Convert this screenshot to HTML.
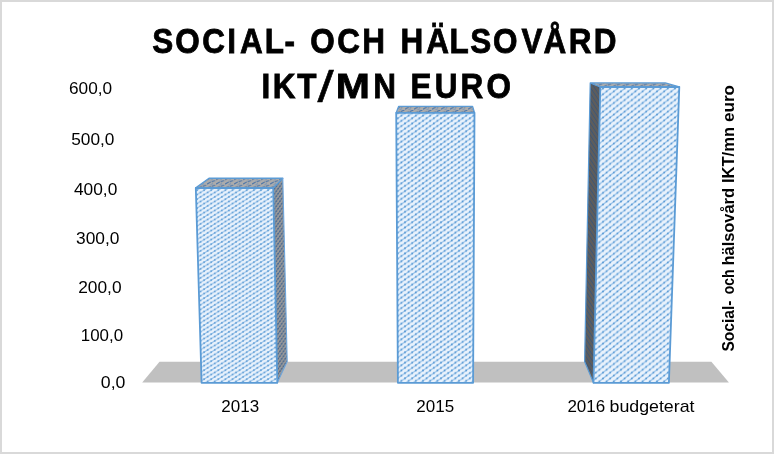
<!DOCTYPE html>
<html><head><meta charset="utf-8">
<style>
html,body{margin:0;padding:0;background:#fff;}
body{width:774px;height:454px;overflow:hidden;}
svg{display:block;will-change:transform;}
text{font-family:"Liberation Sans",sans-serif;}
</style></head>
<body>
<svg width="774" height="454" viewBox="0 0 774 454">
<defs>
  <pattern id="pf1" patternUnits="userSpaceOnUse" width="7.1" height="4.5">
    <rect width="7.1" height="4.5" fill="#e9f2fc"/>
    <path d="M-7.1 9.0 L14.2 -4.5 M-7.1 13.5 L14.2 0 M-7.1 4.5 L14.2 -9.0" stroke="#93bfe8" stroke-width="1.0"/>
    <circle cx="1.77" cy="3.38" r="1" fill="#5b9bd5"/>
    <circle cx="5.32" cy="1.12" r="1" fill="#5b9bd5"/>
  </pattern>
  <pattern id="pf2" patternUnits="userSpaceOnUse" width="7.2" height="5.2">
    <rect width="7.2" height="5.2" fill="#e9f2fc"/>
    <path d="M-7.2 10.4 L14.4 -5.2 M-7.2 15.600000000000001 L14.4 0 M-7.2 5.2 L14.4 -10.4" stroke="#93bfe8" stroke-width="1.15"/>
    <circle cx="1.80" cy="3.90" r="1" fill="#5b9bd5"/>
    <circle cx="5.40" cy="1.30" r="1" fill="#5b9bd5"/>
  </pattern>
  <pattern id="pf3" patternUnits="userSpaceOnUse" width="7.2" height="5.8">
    <rect width="7.2" height="5.8" fill="#e9f2fc"/>
    <path d="M-7.2 11.6 L14.4 -5.8 M-7.2 17.4 L14.4 0 M-7.2 5.8 L14.4 -11.6" stroke="#93bfe8" stroke-width="1.25"/>
    <circle cx="1.80" cy="4.35" r="1" fill="#5b9bd5"/>
    <circle cx="5.40" cy="1.45" r="1" fill="#5b9bd5"/>
  </pattern>
  <pattern id="pt" patternUnits="userSpaceOnUse" width="9" height="4.4">
    <rect width="9" height="4.4" fill="#acacac"/>
    <path d="M0.5 3.4 L3.5 1.8 M5 1.4 L8 0.2" stroke="#4d76a8" stroke-width="1.1" stroke-linecap="round"/>
    <path d="M3.5 4.2 L6 3" stroke="#7d98b8" stroke-width="1"/>
  </pattern>
  <pattern id="ps1" patternUnits="userSpaceOnUse" width="3.6" height="5">
    <rect width="3.6" height="5" fill="#999999"/>
    <path d="M-3.6 10 L7.2 -5 M-3.6 15 L7.2 0 M-3.6 5 L7.2 -10" stroke="#5f7798" stroke-width="1"/>
    <circle cx="0.9" cy="3.75" r="0.75" fill="#42648f"/>
    <circle cx="2.7" cy="1.25" r="0.75" fill="#42648f"/>
  </pattern>
  <pattern id="ps3" patternUnits="userSpaceOnUse" width="4" height="6">
    <rect width="4" height="6" fill="#5d5d5d"/>
    <path d="M-4 -6 L8 12 M-4 0 L8 18 M-4 -12 L8 6" stroke="#3c5677" stroke-width="1"/>
  </pattern>
</defs>
<rect x="1" y="1" width="772" height="452" fill="#fff" stroke="#d9d9d9" stroke-width="2"/>

<!-- floor -->
<polygon points="159.5,361.7 711.4,361.8 728.9,382.5 142.2,382.6" fill="#c0c0c0"/>

<!-- bar 1 -->
<polygon points="273.2,188 282.8,178.3 287.2,361.5 277.3,382.8" fill="url(#ps1)"/>
<polygon points="195.8,187.9 273.2,188 282.8,178.3 209,178.3" fill="url(#pt)"/>
<polygon points="195.8,187.9 273.2,188 277.3,382.8 201.6,382.8" fill="url(#pf1)"/>
<g fill="none" stroke="#5b9bd5" stroke-linejoin="round" stroke-linecap="round">
  <path d="M195.8,187.9 L209,178.3 L282.8,178.3 L273.2,188" stroke-width="1.4"/>
  <path d="M282.8,178.3 L287.2,361.5 L277.3,382.8" stroke-width="1.1" stroke="#6fa6dc"/>
  <polygon points="195.8,187.9 273.2,188 277.3,382.8 201.6,382.8" stroke-width="1.8"/>
</g>
<!-- bar 2 -->
<polygon points="396.2,112.8 474.5,112.8 472.6,106.4 398.6,106.4" fill="url(#pt)"/>
<polygon points="396.2,112.8 474.5,112.8 473.1,382.8 397.9,382.8" fill="url(#pf2)"/>
<g fill="none" stroke="#5b9bd5" stroke-linejoin="round" stroke-linecap="round">
  <path d="M396.2,112.8 L398.6,106.4 L472.6,106.4 L474.5,112.8" stroke-width="1.3"/>
  <polygon points="396.2,112.8 474.5,112.8 473.1,382.8 397.9,382.8" stroke-width="1.8"/>
</g>
<!-- bar 3 -->
<polygon points="590.2,82.9 600.3,87 593.5,382.8 584.6,361.5" fill="url(#ps3)"/>
<polygon points="600.3,87 679.3,86.8 665.3,82.9 590.2,82.9" fill="url(#pt)"/>
<polygon points="600.3,87 679.3,86.8 668.9,382.8 593.5,382.8" fill="url(#pf3)"/>
<g fill="none" stroke="#5b9bd5" stroke-linejoin="round" stroke-linecap="round">
  <path d="M600.3,87 L590.2,82.9 L665.3,82.9 L679.3,86.8 M590.2,82.9 L584.6,361.5 L593.5,382.8" stroke-width="1.2"/>
  <polygon points="600.3,87 679.3,86.8 668.9,382.8 593.5,382.8" stroke-width="1.8"/>
</g>

<!-- title -->
<g font-weight="bold" font-size="35" fill="#000" stroke="#000" stroke-width="0.8" transform="scale(0.9,1)">
  <text x="169.2 194.6 224.7 252.5 266.8 294.3 316.2 326.2 344.8 374.8 402.6 412.6 445.1 473.5 499.5 522.6 547.8 579.5 604.0 632.0 659.6" y="53">SOCIAL- OCH HÄLSOVÅRD</text>
  <text x="290.5 303.1 330.2" y="97.7">IKT</text>
  <text x="414.7 424.7 456.0 483.1 511.8 540.6" y="97.7">N EURO</text>
</g>
<text transform="scale(1.171,1)" x="286.8" y="97.7" font-weight="bold" font-size="35" fill="#000" stroke="#000" stroke-width="0.8">M</text>
<text transform="scale(1.31,1)" x="242.3" y="102.2" font-size="44.4" fill="#000" stroke="#000" stroke-width="0.5">/</text>

<!-- y labels -->
<g font-size="17.2" fill="#000">
  <text x="69.0" y="94" textLength="43.1" lengthAdjust="spacingAndGlyphs">600,0</text>
  <text x="71.2" y="144.9" textLength="43.2" lengthAdjust="spacingAndGlyphs">500,0</text>
  <text x="74.0" y="194.9" textLength="43.3" lengthAdjust="spacingAndGlyphs">400,0</text>
  <text x="76.0" y="243.9" textLength="43.4" lengthAdjust="spacingAndGlyphs">300,0</text>
  <text x="78.2" y="292.9" textLength="43.4" lengthAdjust="spacingAndGlyphs">200,0</text>
  <text x="80.8" y="340.9" textLength="42.3" lengthAdjust="spacingAndGlyphs">100,0</text>
  <text x="100.8" y="387.8" textLength="24.6" lengthAdjust="spacingAndGlyphs">0,0</text>
</g>

<!-- x labels -->
<g font-size="17" fill="#000">
  <text x="221.3" y="411.8">2013</text>
  <text x="416.3" y="411.8">2015</text>
  <text x="567.4" y="411.8">2016</text>
  <text x="609.5" y="411.8" textLength="85" lengthAdjust="spacingAndGlyphs">budgeterat</text>
</g>

<!-- axis title -->
<g transform="translate(734,0) rotate(-90)" font-size="16.3" font-weight="bold" fill="#000">
  <text x="-351.5" y="0" textLength="51" lengthAdjust="spacingAndGlyphs">Social-</text>
  <text x="-294.3" y="0" textLength="25" lengthAdjust="spacingAndGlyphs">och</text>
  <text x="-265.5" y="0" textLength="77.5" lengthAdjust="spacingAndGlyphs">hälsovård</text>
  <text x="-183" y="0" textLength="56" lengthAdjust="spacingAndGlyphs">IKT/mn</text>
  <text x="-122" y="0" textLength="37" lengthAdjust="spacingAndGlyphs">euro</text>
</g>
</svg>
</body></html>
